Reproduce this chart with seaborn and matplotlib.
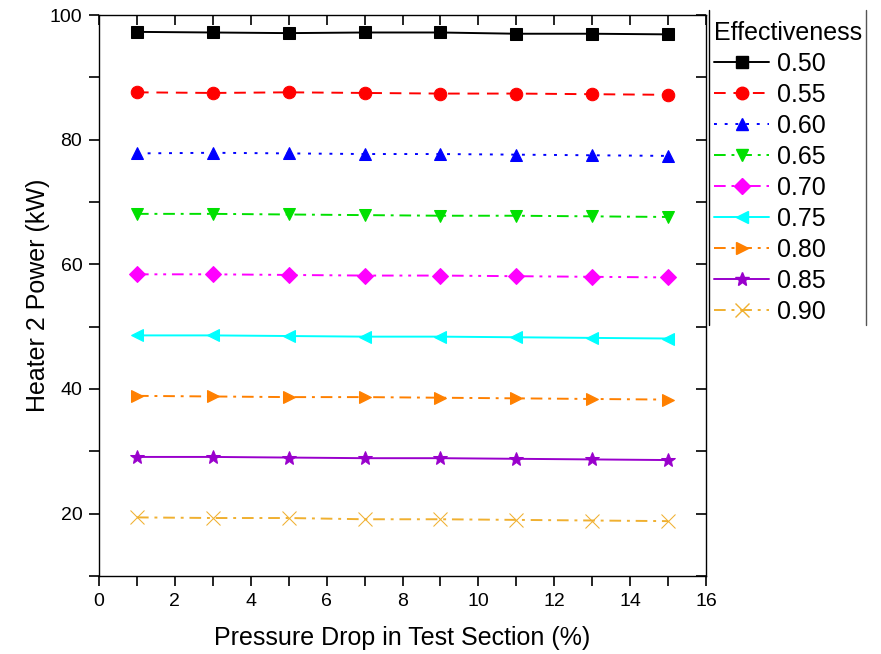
import matplotlib
matplotlib.use("Agg")
import matplotlib.pyplot as plt
from matplotlib.lines import Line2D
import seaborn as sns
import pandas as pd

# Pressure drop in test section (%)
pressure_drop = [1, 3, 5, 7, 9, 11, 13, 15]

# Heater 2 power (kW) for each effectiveness value
effectiveness = ["0.50", "0.55", "0.60", "0.65", "0.70", "0.75", "0.80", "0.85", "0.90"]
p_050 = [97.3, 97.2, 97.1, 97.2, 97.2, 97.0, 97.0, 96.9]
p_055 = [87.6, 87.5, 87.6, 87.5, 87.4, 87.4, 87.3, 87.2]
p_060 = [77.8, 77.9, 77.8, 77.7, 77.7, 77.6, 77.5, 77.4]
p_065 = [68.1, 68.1, 68.0, 67.9, 67.8, 67.8, 67.7, 67.6]
p_070 = [58.4, 58.4, 58.3, 58.2, 58.2, 58.1, 58.0, 57.9]
p_075 = [48.6, 48.6, 48.5, 48.4, 48.4, 48.3, 48.2, 48.1]
p_080 = [38.9, 38.8, 38.7, 38.7, 38.6, 38.5, 38.4, 38.3]
p_085 = [29.1, 29.1, 29.0, 28.9, 28.9, 28.8, 28.7, 28.6]
p_090 = [19.4, 19.3, 19.3, 19.1, 19.1, 19.0, 18.9, 18.8]
power = [p_050, p_055, p_060, p_065, p_070, p_075, p_080, p_085, p_090]

colors = ["black", "red", "blue", "#00e000", "magenta", "cyan", "#ff8000", "#9900cc", "#f0b030"]
markers = ["s", "o", "^", "v", "D", "<", ">", "*", "x"]
linestyles = ["-", (0, (6, 4)), (0, (1.5, 4)), (0, (6, 3, 1.5, 3)),
              (0, (6, 3, 1.5, 3, 1.5, 3)), "-", (0, (6, 3, 1.5, 3)), "-",
              (0, (6, 3, 1.5, 3))]
marker_sizes = [8, 9, 9, 9, 8, 9, 9, 10, 10]

sns.set_style("ticks")
plt.rcParams["font.family"] = ["Liberation Sans", "DejaVu Sans"]
plt.rcParams["text.color"] = "black"
plt.rcParams["axes.labelcolor"] = "black"

fig = plt.figure(figsize=(8.81, 6.54), dpi=100)
ax = fig.add_axes([0.1124, 0.1193, 0.689, 0.8577])

for lab, vals, c, m, ls, ms in zip(effectiveness, power, colors, markers, linestyles, marker_sizes):
    df = pd.DataFrame({"x": pressure_drop, "y": vals})
    sns.lineplot(data=df, x="x", y="y", ax=ax, color=c, marker=m,
                 markersize=ms, markeredgecolor=c, markerfacecolor=c,
                 linewidth=1.4, label=lab, legend=False)
    if isinstance(ls, tuple):
        ax.lines[-1].set_dashes(ls[1])
    else:
        ax.lines[-1].set_linestyle(ls)

ax.set_xlim(0, 16)
ax.set_ylim(10, 100)
ax.set_xticks(range(0, 17, 2))
ax.set_xticks(range(1, 17, 2), minor=True)
ax.set_yticks([20, 40, 60, 80, 100])
ax.set_yticks([10, 30, 50, 70, 90], minor=True)
ax.set_xlabel("Pressure Drop in Test Section (%)", fontsize=18, labelpad=12)
ax.set_ylabel("Heater 2 Power (kW)", fontsize=18, labelpad=0)

for s in ax.spines.values():
    s.set_visible(True)
    s.set_color("black")
    s.set_linewidth(1.0)
ax.tick_params(which="both", direction="out", length=7, width=1.2,
               labelsize=14, colors="black", top=True, right=True, pad=5)
# top and right ticks point inward
for t in ax.xaxis.get_major_ticks() + ax.xaxis.get_minor_ticks():
    t.tick2line.set_marker(3)
for t in ax.yaxis.get_major_ticks() + ax.yaxis.get_minor_ticks():
    t.tick2line.set_marker(0)

handles = [Line2D([], [], color=c, marker=m, markersize=ms, linestyle=ls, linewidth=1.4)
           for c, m, ls, ms in zip(colors, markers, linestyles, marker_sizes)]
leg = fig.legend(handles, effectiveness, title="Effectiveness", loc="upper left",
                 bbox_to_anchor=(0.8105, 0.968), frameon=False, fontsize=18,
                 title_fontsize=18, handlelength=2.2, labelspacing=0.28,
                 handletextpad=0.3, borderaxespad=0, borderpad=0)
leg._legend_box.align = "left"

fig.add_artist(Line2D([0.8047, 0.8047], [0.503, 0.985], color="black", linewidth=1.0,
                      transform=fig.transFigure))
fig.add_artist(Line2D([0.983, 0.983], [0.503, 0.985], color="#555555", linewidth=1.0,
                      transform=fig.transFigure))

fig.savefig("out.png", dpi=100)
